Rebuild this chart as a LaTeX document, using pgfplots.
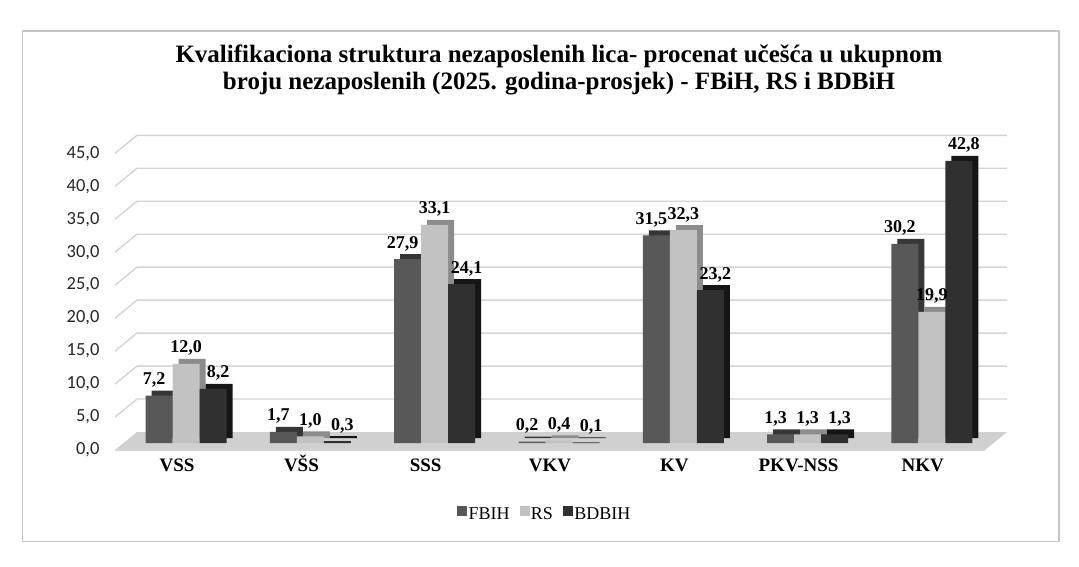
\documentclass[border=0pt]{standalone}
\usepackage{fontspec}
\setmainfont{Liberation Serif}
\newfontfamily\carlito{Carlito}
\usepackage{pgfplots}
\usepackage{pgfplotstable}
\pgfplotsset{compat=1.18}
\pgfplotstableread{
x FBIH RS BDBIH
0 7.2 12.0 8.2
1 1.7 1.0 0.3
2 27.9 33.1 24.1
3 0.2 0.4 0.1
4 31.5 32.3 23.2
5 1.3 1.3 1.3
6 30.2 19.9 42.8
}\data
\definecolor{cF}{HTML}{585858}
\definecolor{cFd}{HTML}{363636}
\definecolor{cR}{HTML}{C2C2C2}
\definecolor{cRd}{HTML}{8C8C8C}
\definecolor{cB}{HTML}{303030}
\definecolor{cBd}{HTML}{151515}
\definecolor{gridc}{HTML}{D4D4D4}
\definecolor{floorc}{HTML}{D0D0D0}
\begin{document}
\begin{tikzpicture}
\path[use as bounding box] (0pt,0pt) rectangle (1079pt,566pt);
\draw[draw=black!22, line width=1.5pt] (22.5pt,535pt) rectangle (1059pt,24.5pt);
\node[anchor=base, inner sep=0pt, font=\bfseries\fontsize{25}{28}\selectfont] at (559pt,503.3pt) {Kvalifikaciona struktura nezaposlenih lica- procenat učešća u ukupnom};
\node[anchor=base, inner sep=0pt, font=\bfseries\fontsize{25}{28}\selectfont] at (559pt,476pt) {broju nezaposlenih (2025. godina-prosjek) - FBiH, RS i BDBiH};
\begin{axis}[
  at={(115pt,116pt)}, anchor=south west,
  width=870pt, height=296.7pt, scale only axis,
  xmin=-0.5, xmax=6.5, ymin=0, ymax=45,
  clip=false,
  axis line style={draw=none},
  major tick length=0pt,
  xtick={0,1,2,3,4,5,6},
  xticklabels={VSS,VŠS,SSS,VKV,KV,PKV-NSS,NKV},
  xticklabel style={font=\bfseries\fontsize{19}{21}\selectfont, text height=13pt, text depth=0pt, yshift=-5pt},
  ytick={0,5,10,15,20,25,30,35,40,45},
  yticklabel style={font=\carlito\fontsize{18.5}{20}\selectfont, text=black!85, xshift=-12pt,
    /pgf/number format/.cd, fixed, fixed zerofill, precision=1, use comma, assume math mode=true},
  legend style={at={(0.494,-0.216)}, anchor=center, draw=none, fill=none,
    legend columns=-1, font=\fontsize{18}{20}\selectfont,
    /tikz/every even column/.append style={column sep=8pt}},
]
% grid (back wall)
\pgfplotsinvokeforeach{5,10,15,20,25,30,35,40,45}{
  \draw[gridc, line width=1.4pt] (axis cs:-0.5,#1) -- ++(22pt,18pt) -- ([shift={(22pt,18pt)}]axis cs:6.5,#1);
}
% floor
\fill[floorc] (axis cs:-0.5,0) -- (axis cs:6.5,0) -- ([shift={(22pt,18pt)}]axis cs:6.5,0) -- ([shift={(22pt,18pt)}]axis cs:-0.5,0) -- cycle;
\draw[gridc, line width=1.4pt] (axis cs:-0.5,0) -- (axis cs:6.5,0);
% depth copies
\addplot[ybar, bar width=27pt, forget plot, fill=cFd, draw=none, bar shift=-27pt, xshift=15pt, yshift=12pt] table[x=x,y=FBIH]{\data};
\addplot[ybar, bar width=27pt, forget plot, fill=cRd, draw=none, bar shift=0pt, xshift=15pt, yshift=12pt] table[x=x,y=RS]{\data};
\addplot[ybar, bar width=27pt, forget plot, fill=cBd, draw=none, bar shift=27pt, xshift=15pt, yshift=12pt] table[x=x,y=BDBIH]{\data};
% front faces
\pgfplotsset{lbl/.style={nodes near coords={\pgfmathprintnumber[fixed,fixed zerofill,precision=1,use comma,assume math mode=true]{\pgfplotspointmeta}},
  nodes near coords style={font=\bfseries\fontsize{18}{20}\selectfont, anchor=south, inner sep=1pt, yshift=7pt, text=black, xshift=#1}}}
\addplot[ybar, bar width=27pt, forget plot, fill=cF, draw=none, bar shift=-27pt, xshift=9pt, yshift=7pt, lbl=-32pt] table[x=x,y=FBIH]{\data};
\addplot[ybar, bar width=27pt, forget plot, fill=cR, draw=none, bar shift=0pt, xshift=9pt, yshift=7pt, lbl=0pt] table[x=x,y=RS]{\data};
\addplot[ybar, bar width=27pt, forget plot, fill=cB, draw=none, bar shift=27pt, xshift=9pt, yshift=7pt, lbl=32pt] table[x=x,y=BDBIH]{\data};
\addlegendimage{legend image code/.code={\fill[cF] (0pt,-1pt) rectangle (9pt,8pt);}}
\addlegendentry{FBIH}
\addlegendimage{legend image code/.code={\fill[cR] (0pt,-1pt) rectangle (9pt,8pt);}}
\addlegendentry{RS}
\addlegendimage{legend image code/.code={\fill[cB] (0pt,-1pt) rectangle (9pt,8pt);}}
\addlegendentry{BDBIH}
\end{axis}
\end{tikzpicture}
\end{document}
